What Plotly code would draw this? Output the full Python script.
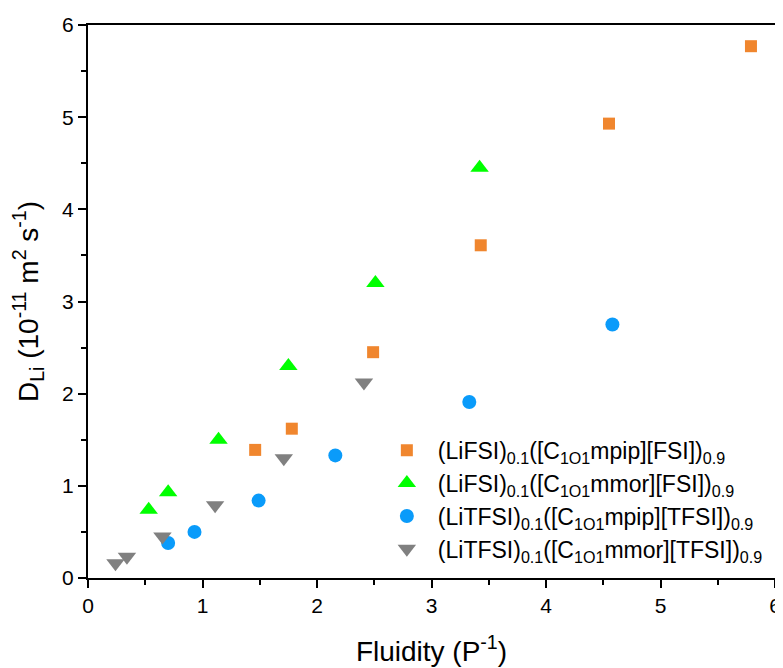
import plotly.graph_objects as go

# Data
fsi_mpip_x = [1.46, 1.78, 2.49, 3.43, 4.55, 5.79]
fsi_mpip_y = [1.39, 1.62, 2.45, 3.61, 4.93, 5.77]

fsi_mmor_x = [0.53, 0.70, 1.14, 1.75, 2.51, 3.42]
fsi_mmor_y = [0.74, 0.93, 1.50, 2.30, 3.20, 4.45]

tfsi_mpip_x = [0.70, 0.93, 1.49, 2.16, 3.33, 4.58]
tfsi_mpip_y = [0.38, 0.50, 0.84, 1.33, 1.91, 2.75]

tfsi_mmor_x = [0.24, 0.34, 0.65, 1.11, 1.71, 2.41]
tfsi_mmor_y = [0.16, 0.23, 0.45, 0.79, 1.30, 2.12]

names = [
    "(LiFSI)<sub>0.1</sub>([C<sub>1O1</sub>mpip][FSI])<sub>0.9</sub>",
    "(LiFSI)<sub>0.1</sub>([C<sub>1O1</sub>mmor][FSI])<sub>0.9</sub>",
    "(LiTFSI)<sub>0.1</sub>([C<sub>1O1</sub>mpip][TFSI])<sub>0.9</sub>",
    "(LiTFSI)<sub>0.1</sub>([C<sub>1O1</sub>mmor][TFSI])<sub>0.9</sub>",
]

FONT = "Liberation Sans, Arial"

fig = go.Figure()
series = [
    (fsi_mpip_x, fsi_mpip_y, "square", "#F0862E", 12),
    (fsi_mmor_x, fsi_mmor_y, "triangle-up", "#00FF00", 16),
    (tfsi_mpip_x, tfsi_mpip_y, "circle", "#0A9BFA", 14),
    (tfsi_mmor_x, tfsi_mmor_y, "triangle-down", "#808080", 16),
]
for (x, y, sym, col, sz), nm in zip(series, names):
    fig.add_trace(go.Scatter(x=x, y=y, mode="markers", name=nm,
                             marker=dict(symbol=sym, color=col, size=sz, line=dict(width=0))))

axis_common = dict(showline=True, linecolor="black", linewidth=2, mirror=True,
                   ticks="outside", tickwidth=2, ticklen=8, tickcolor="black",
                   showgrid=False, zeroline=False, automargin=False,
                   tickfont=dict(family=FONT, size=21, color="black"),
                   minor=dict(ticks="outside", ticklen=5, tickwidth=2, tickcolor="black", dtick=0.5))

fig.update_xaxes(range=[0, 6], dtick=1, **axis_common,
                 title=dict(text="Fluidity (P<sup>-1</sup>)", standoff=25,
                            font=dict(family=FONT, size=28, color="black")))
fig.update_yaxes(range=[0, 6], dtick=1, **axis_common,
                 title=dict(text="D<sub>Li</sub> (10<sup>-11</sup> m<sup>2</sup> s<sup>-1</sup>)", standoff=16,
                            font=dict(family=FONT, size=28, color="black")))

# the page adds an 8px body margin, so the figure is drawn 8px in from the top-left
fig.update_layout(
    width=775, height=660,
    margin=dict(l=80, r=8, t=17, b=90),
    plot_bgcolor="white", paper_bgcolor="white",
    legend=dict(x=0.419, y=0.27, xanchor="left", yanchor="top",
                font=dict(family=FONT, size=23, color="black"),
                bgcolor="rgba(0,0,0,0)", tracegroupgap=0, itemsizing="trace", itemwidth=52),
)

fig.write_html("out.html")
